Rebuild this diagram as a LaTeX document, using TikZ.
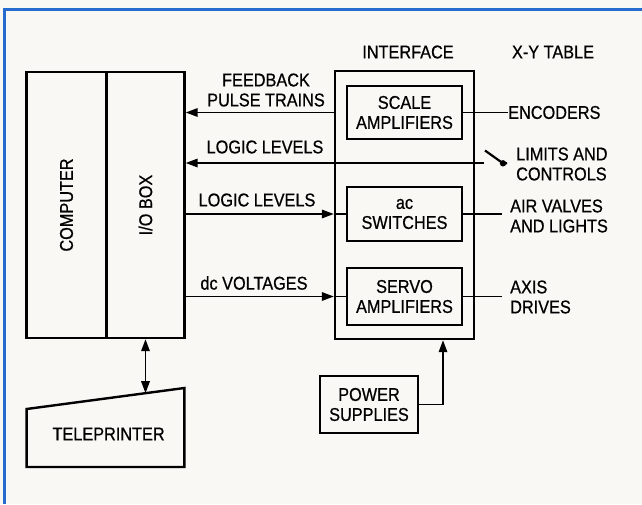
\documentclass[tikz,border=0pt]{standalone}
\usepackage{fontspec}
\setmainfont{Liberation Sans}[FakeStretch=0.88, FakeBold=0.6]
\usetikzlibrary{arrows.meta, positioning, calc}
\definecolor{framebl}{RGB}{38,108,206}
\definecolor{paper}{RGB}{249,248,244}

\begin{document}
\begin{tikzpicture}[x=1pt, y=-1pt,
  every node/.style={font=\fontsize{18.5}{20}\selectfont, align=center, inner sep=0pt},
  outline/.style={line width=2.4pt},
  box/.style    ={rectangle, draw, outline},
  wire/.style   ={line width=1.7pt},
  arr/.style    ={wire, -{Triangle[length=12pt, width=8.5pt]}},
  arr2/.style   ={wire, {Triangle[length=12pt, width=8.5pt]}-{Triangle[length=12pt, width=8.5pt]}},
  lbl/.style    ={anchor=west, align=left},
]

% Page and frame
\fill[paper] (0,0) rectangle (642,504);
\useasboundingbox (0,0) rectangle (642,504);
\draw[framebl, line width=3pt] (4.5,504) -- (4.5,9) -- (642,9);

% Computer and I/O box
\node[box, minimum width=80pt, minimum height=266pt] (comp) at (66.5,205) {};
\node[box, minimum width=78pt, minimum height=266pt] (io)   at (145.5,205) {};
\node[rotate=90] (comptxt) at (comp) {COMPUTER};
\node[rotate=90] (iotxt)   at (io)   {I/O BOX};

% Teleprinter
\draw[outline] (26.6,409) -- (184.4,388) -- (184.4,467) -- (26.6,467) -- cycle;
\node (tptxt) at (108.6,434) {TELEPRINTER};
\coordinate (tptop) at (145.5,393.2);

% Interface
\node (ifacetxt) at (408,52) {INTERFACE};
\node (xytxt)    at (553,52) {X-Y TABLE};
\node[box, minimum width=139pt, minimum height=268pt] (iface) at (404.5,205) {};
\node[box, minimum width=115pt, minimum height=53pt] (scale) at (404.5,112.5) {SCALE\\AMPLIFIERS};
\node[box, minimum width=115pt, minimum height=54pt] (acsw)  at (404.5,214)   {ac\\SWITCHES};
\node[box, minimum width=115pt, minimum height=57pt] (servo) at (404.5,296.5) {SERVO\\AMPLIFIERS};

% Power supplies
\node[box, minimum width=98pt, minimum height=57pt] (psu) at (369,404.5) {POWER\\SUPPLIES};

% X-Y table side
\node[lbl] (enc)  at (508,112.5) {ENCODERS};
\node[lbl] (lim)  at (516,164)   {LIMITS AND\\CONTROLS};
\node[lbl] (air)  at (510,216)   {AIR VALVES\\AND LIGHTS};
\node[lbl] (axis) at (510,297)   {AXIS\\DRIVES};

% Limit switch
\coordinate (sw)    at (484,163);
\coordinate (swpiv) at (503,163.3);
\coordinate (swtop) at (485,150.5);
\draw[wire, line width=2.2pt] (swtop) -- (swpiv) -- ++(4,0);
\fill (swpiv) circle (3.2pt);

% Wire labels
\node (fbtxt) at (266,90)  {FEEDBACK\\PULSE TRAINS};
\node (lvl1)  at (265,147) {LOGIC LEVELS};
\node (lvl2)  at (257,200) {LOGIC LEVELS};
\node (dctxt) at (254,283) {dc VOLTAGES};

% Wires - into I/O box
\draw[arr] (iface.west |- scale.west) -- (io.east |- scale.west);
\draw[arr] (sw) -- (io.east |- sw);

% Wires - out of I/O box
\draw[arr]  (io.east |- acsw.west) -- (iface.west |- acsw.west);
\draw[wire] (iface.west |- acsw.west) -- (acsw.west);
\draw[arr]  (io.east |- servo.west) -- (iface.west |- servo.west);
\draw[wire] (iface.west |- servo.west) -- (servo.west);

% Wires - to the table
\draw[wire] (scale.east) -- (enc.west);
\draw[wire, shorten >=8pt] (acsw.east)  -- (acsw.east -| air.west);
\draw[wire, shorten >=8pt] (servo.east) -- (servo.east -| axis.west);

% Power and teleprinter
\draw[arr]  (psu.east) -| ([xshift=38.5pt]iface.south);
\draw[arr2] (io.south) -- (tptop);

\end{tikzpicture}
\end{document}
